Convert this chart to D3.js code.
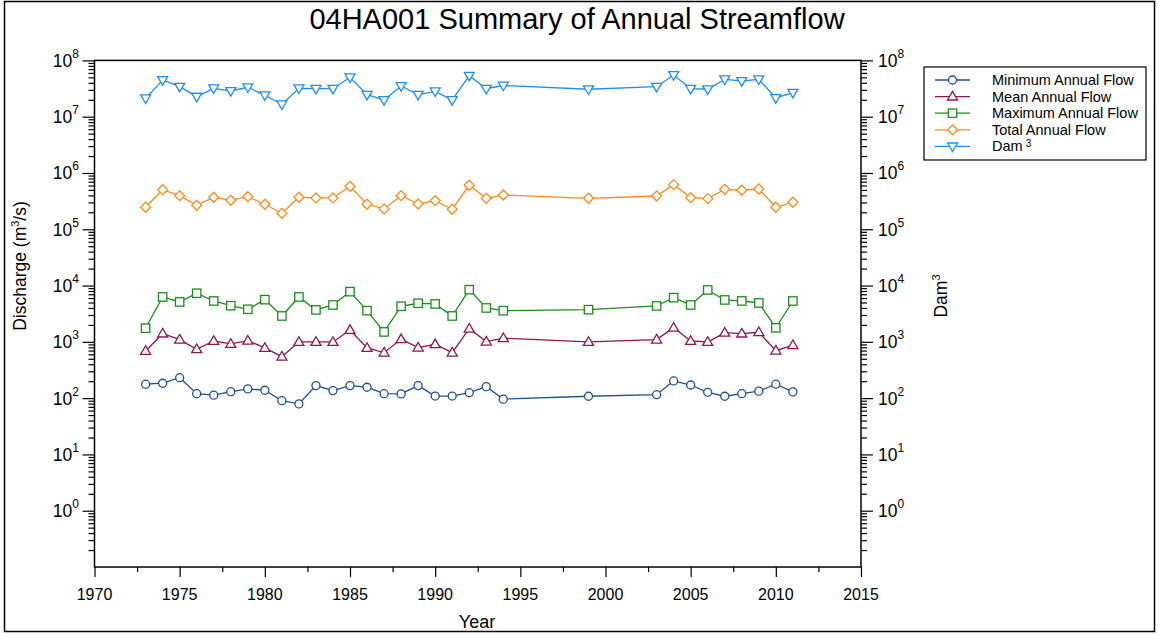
<!DOCTYPE html>
<html>
<head>
<meta charset="utf-8">
<script src="https://cdn.jsdelivr.net/npm/d3@7"></script>
<style>
  html, body { margin: 0; padding: 0; background: #fff; }
  svg { display: block; font-family: "Liberation Sans", Arial, sans-serif; }
</style>
</head>
<body>
<svg id="chart" width="1158" height="634"></svg>
<script>
const years = [1973,1974,1975,1976,1977,1978,1979,1980,1981,1982,1983,1984,1985,1986,1987,1988,1989,1990,1991,1992,1993,1994,1999,2003,2004,2005,2006,2007,2008,2009,2010,2011];
const minFlow = [177,184,231,120,113,130,146,138,90,79,167,136,167,156,120,119,167,109,109,125,160,96,108,115,202,171,127,108,120,133,177,129];
const meanFlow = [689,1400,1094,739,1038,918,1050,780,546,995,995,995,1622,780,643,1112,789,906,643,1713,1009,1159,995,1094,1786,1038,995,1455,1400,1482,698,871];
const maxFlow = [1746,6270,5110,7300,5320,4390,3790,5620,2880,6270,3690,4520,7800,3580,1500,4290,4850,4710,2880,8450,4000,3580,3730,4340,6100,4520,8350,5550,5320,4910,1770,5320];
const totalFlow = [246000,505000,395000,267000,370000,327000,379000,278000,192000,370000,360000,360000,581000,278000,230000,395000,281000,322000,227000,605000,355000,406000,355000,390000,620000,364000,350000,513000,493000,520000,246000,302000];
const dam3 = [21200000,44900000,34100000,22700000,31900000,28600000,33300000,24000000,16600000,31900000,31400000,31400000,50100000,24600000,19800000,35100000,24600000,28200000,19800000,53500000,31400000,35800000,30700000,34100000,55000000,31400000,30700000,46100000,43100000,46100000,21500000,26700000];
const xTicks = [1970,1975,1980,1985,1990,1995,2000,2005,2010,2015];
const yExponents = [0,1,2,3,4,5,6,7,8];
const seriesNames = ["Minimum Annual Flow","Mean Annual Flow","Maximum Annual Flow","Total Annual Flow","Dam"];

const series = [
  {name: seriesNames[0], values: minFlow, color: "#1f4f8f", marker: "circle"},
  {name: seriesNames[1], values: meanFlow, color: "#8e1452", marker: "triUp"},
  {name: seriesNames[2], values: maxFlow, color: "#1c8c1c", marker: "square"},
  {name: seriesNames[3], values: totalFlow, color: "#ff8a1c", marker: "diamond"},
  {name: seriesNames[4], values: dam3, color: "#1e8ef5", marker: "triDown", sup: "3"}
];

const svg = d3.select("#chart");
const L = 94.5, R = 861, T = 60.4, B = 567;
const x = d3.scaleLinear().domain([1970, 2015]).range([L, R]);
const y = d3.scaleLog().domain([0.1, 1e8]).range([B, T]);

// outer frame
svg.append("rect").attr("x", 4.5).attr("y", 1.5).attr("width", 1150).attr("height", 630)
  .attr("fill", "none").attr("stroke", "#000").attr("stroke-width", 1.5);

// title
svg.append("text").attr("x", 577).attr("y", 29).attr("text-anchor", "middle")
  .attr("font-size", 29).text("04HA001 Summary of Annual Streamflow");

// minor tick values for log axis
const minorY = [];
for (let e = -1; e < 8; e++) for (let m = 2; m <= 9; m++) minorY.push(m * Math.pow(10, e));
const majorY = yExponents.map(e => Math.pow(10, e));
const minorX = d3.range(1972.5, 2015, 5);

function styleAxis(g) {
  g.select(".domain").remove();
  g.selectAll("line").attr("stroke", "#000").attr("stroke-width", 1.2);
  g.selectAll("text").remove();
}

// left axis
svg.append("g").attr("transform", `translate(${L},0)`)
  .call(d3.axisLeft(y).tickValues(majorY).tickSize(12).tickFormat("")).call(styleAxis);
svg.append("g").attr("transform", `translate(${L},0)`)
  .call(d3.axisLeft(y).tickValues(minorY).tickSize(6).tickFormat("")).call(styleAxis);
// right axis
svg.append("g").attr("transform", `translate(${R},0)`)
  .call(d3.axisRight(y).tickValues(majorY).tickSize(12).tickFormat("")).call(styleAxis);
svg.append("g").attr("transform", `translate(${R},0)`)
  .call(d3.axisRight(y).tickValues(minorY).tickSize(6).tickFormat("")).call(styleAxis);
// bottom axis
svg.append("g").attr("transform", `translate(0,${B})`)
  .call(d3.axisBottom(x).tickValues(xTicks).tickSize(10).tickFormat("")).call(styleAxis);
svg.append("g").attr("transform", `translate(0,${B})`)
  .call(d3.axisBottom(x).tickValues(minorX).tickSize(5).tickFormat("")).call(styleAxis);

// frame lines of plot
svg.append("rect").attr("x", L).attr("y", T).attr("width", R - L).attr("height", B - T)
  .attr("fill", "none").attr("stroke", "#000").attr("stroke-width", 1.5);

// y labels
yExponents.forEach(e => {
  const v = Math.pow(10, e);
  const tl = svg.append("text").attr("x", 79).attr("y", y(v) + 6.5).attr("text-anchor", "end").attr("font-size", 17.5);
  tl.append("tspan").text("10");
  tl.append("tspan").attr("dy", -9).attr("font-size", 12).text(e);
  const tr = svg.append("text").attr("x", 878).attr("y", y(v) + 6.5).attr("text-anchor", "start").attr("font-size", 17.5);
  tr.append("tspan").text("10");
  tr.append("tspan").attr("dy", -9).attr("font-size", 12).text(e);
});
// x labels
xTicks.forEach(t => {
  svg.append("text").attr("x", x(t)).attr("y", 600).attr("text-anchor", "middle")
    .attr("font-size", 16).text(t);
});

// axis titles
svg.append("text").attr("x", 477).attr("y", 628).attr("text-anchor", "middle").attr("font-size", 18).text("Year");
const lt = svg.append("text").attr("transform", "translate(26,266) rotate(-90)").attr("text-anchor", "middle").attr("font-size", 17.5);
lt.append("tspan").text("Discharge (m");
lt.append("tspan").attr("dy", -7).attr("font-size", 11).text("3");
lt.append("tspan").attr("dy", 7).text("/s)");
const rt = svg.append("text").attr("transform", "translate(947,296) rotate(-90)").attr("text-anchor", "middle").attr("font-size", 17.5);
rt.append("tspan").text("Dam");
rt.append("tspan").attr("dy", -7).attr("font-size", 11).text("3");

function drawMarker(g, type, cx, cy, color) {
  let el;
  if (type === "circle") {
    el = g.append("circle").attr("cx", cx).attr("cy", cy).attr("r", 4);
  } else if (type === "square") {
    el = g.append("rect").attr("x", cx - 4.2).attr("y", cy - 4.2).attr("width", 8.4).attr("height", 8.4);
  } else if (type === "triUp") {
    el = g.append("path").attr("d", `M${cx},${cy - 5.2}L${cx + 5},${cy + 3.4}L${cx - 5},${cy + 3.4}Z`);
  } else if (type === "triDown") {
    el = g.append("path").attr("d", `M${cx},${cy + 5.2}L${cx + 5},${cy - 3.4}L${cx - 5},${cy - 3.4}Z`);
  } else if (type === "diamond") {
    el = g.append("path").attr("d", `M${cx},${cy - 5}L${cx + 5},${cy}L${cx},${cy + 5}L${cx - 5},${cy}Z`);
  }
  el.attr("fill", "#fff").attr("stroke", color).attr("stroke-width", 1.3);
}

const line = d3.line().x(d => x(d[0])).y(d => y(d[1]));
series.forEach(s => {
  const pts = years.map((yr, i) => [yr, s.values[i]]);
  const g = svg.append("g");
  g.append("path").datum(pts).attr("d", line).attr("fill", "none")
    .attr("stroke", s.color).attr("stroke-width", 1.3);
  pts.forEach(p => drawMarker(g, s.marker, x(p[0]), y(p[1]), s.color));
});

// legend
const lg = svg.append("g");
lg.append("rect").attr("x", 924).attr("y", 67).attr("width", 222).attr("height", 93)
  .attr("fill", "#fff").attr("stroke", "#000").attr("stroke-width", 1.2);
series.forEach((s, i) => {
  const ly = 80 + i * 16.6;
  lg.append("line").attr("x1", 935).attr("x2", 970).attr("y1", ly).attr("y2", ly)
    .attr("stroke", s.color).attr("stroke-width", 1.3);
  drawMarker(lg, s.marker, 952.5, ly, s.color);
  const t = lg.append("text").attr("x", 992).attr("y", ly + 5).attr("font-size", 14.5);
  t.append("tspan").text(s.name);
  if (s.sup) t.append("tspan").attr("dx", 3).attr("dy", -4).attr("font-size", 10).text(s.sup);
});
</script>
</body>
</html>
